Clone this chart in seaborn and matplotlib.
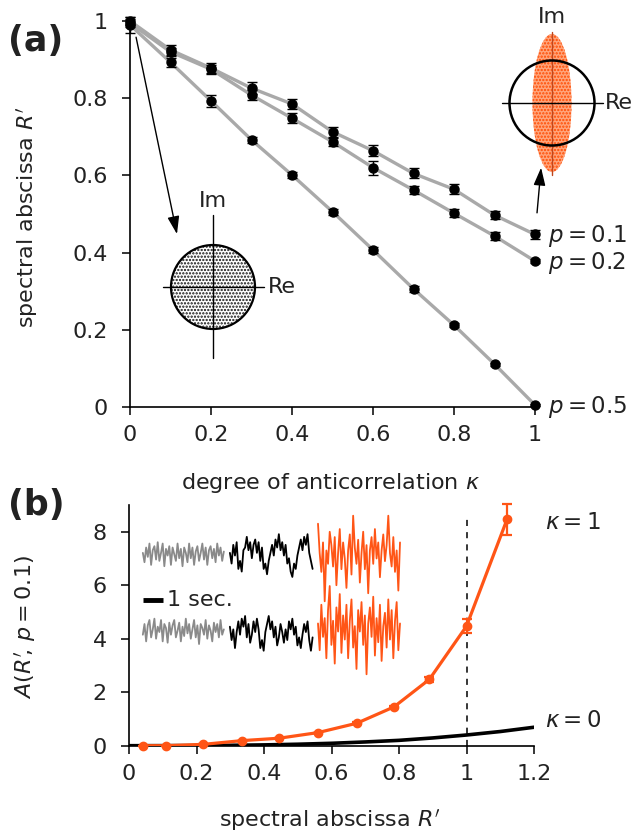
import numpy as np
import pandas as pd
import seaborn as sns
import matplotlib
matplotlib.use("Agg")
import matplotlib.pyplot as plt
from matplotlib.patches import Circle, Ellipse

# ---------------- data ----------------
kappa = [0.0, 0.1, 0.2, 0.3, 0.4, 0.5, 0.6, 0.7, 0.8, 0.9, 1.0]
r_p01 = [1.00, 0.925, 0.878, 0.826, 0.785, 0.713, 0.664, 0.605, 0.564, 0.497, 0.447]
e_p01 = [0.010, 0.014, 0.012, 0.016, 0.012, 0.013, 0.014, 0.013, 0.013, 0.010, 0.012]
r_p02 = [0.995, 0.920, 0.875, 0.808, 0.748, 0.687, 0.620, 0.562, 0.502, 0.443, 0.378]
e_p02 = [0.010, 0.010, 0.012, 0.012, 0.013, 0.010, 0.018, 0.010, 0.010, 0.010, 0.006]
r_p05 = [0.990, 0.893, 0.793, 0.692, 0.601, 0.506, 0.407, 0.306, 0.212, 0.111, 0.005]
e_p05 = [0.020, 0.012, 0.015, 0.007, 0.008, 0.008, 0.008, 0.008, 0.006, 0.004, 0.003]
p_labels = [r"$p = 0.1$", r"$p = 0.2$", r"$p = 0.5$"]

r_k1 = [0.04, 0.11, 0.22, 0.335, 0.445, 0.56, 0.675, 0.785, 0.89, 1.0, 1.12]
a_k1 = [0.0, 0.0, 0.05, 0.19, 0.28, 0.49, 0.84, 1.45, 2.48, 4.47, 8.46]
e_k1 = [0.0, 0.0, 0.0, 0.0, 0.0, 0.0, 0.03, 0.05, 0.08, 0.25, 0.58]
r_k0 = [0.0, 0.1, 0.2, 0.3, 0.4, 0.5, 0.6, 0.7, 0.8, 0.9, 1.0, 1.1, 1.2]
a_k0 = [0.0, 0.002, 0.006, 0.015, 0.03, 0.055, 0.09, 0.14, 0.2, 0.29, 0.4, 0.53, 0.69]

x_ticks_a = [0, 0.2, 0.4, 0.6, 0.8, 1.0]
x_ticklabels_a = ["0", "0.2", "0.4", "0.6", "0.8", "1"]
y_ticks_a = [0, 0.2, 0.4, 0.6, 0.8, 1.0]
y_ticklabels_a = ["0", "0.2", "0.4", "0.6", "0.8", "1"]
x_ticks_b = [0, 0.2, 0.4, 0.6, 0.8, 1.0, 1.2]
x_ticklabels_b = ["0", "0.2", "0.4", "0.6", "0.8", "1", "1.2"]
y_ticks_b = [0, 2, 4, 6, 8]
y_ticklabels_b = ["0", "2", "4", "6", "8"]

# example activity traces (illustrative), top row kappa=1 / bottom row kappa=0
trace_gray_top = [0.05,-0.3,0.25,-0.1,0.4,-0.4,0.15,0.3,-0.2,0.45,-0.25,0.05,0.4,-0.45,0.2,-0.05,0.3,-0.4,0.25,0.0,
                  -0.25,0.4,-0.15,0.2,-0.45,0.25,0.05,-0.3,0.4,-0.15,0.25,-0.4,0.1,0.3,-0.25,0.05,0.4,-0.2,0.25,-0.4,
                  0.15,0.3,-0.15,0.2,-0.3,0.4,-0.05,0.25,-0.25,0.1]
trace_black_top = [0.1,-0.3,0.4,0.0,0.5,-0.5,-0.2,-0.6,0.2,0.3,0.7,0.2,0.5,-0.1,0.4,0.6,0.1,0.5,-0.2,0.3,
                   -0.5,-0.3,-0.7,-0.2,0.1,0.4,0.0,0.6,0.3,0.8,0.2,0.5,0.0,0.4,-0.3,-0.1,-0.6,-0.8,-0.3,-0.5,
                   0.0,0.3,0.6,0.2,0.7,0.4,0.8,0.1,-0.2,-0.5]
trace_orange_top = [1.3,0.2,-0.5,0.6,-1.6,0.3,-0.2,1.0,0.5,-0.3,0.8,-1.0,0.2,1.1,-0.4,0.6,0.0,-1.1,0.3,0.9,
                    -0.6,1.6,0.4,-0.2,0.7,-0.9,0.2,1.0,-0.4,0.5,-1.3,0.3,0.8,-0.2,1.1,0.0,0.6,-0.7,0.3,0.9,
                    -0.1,0.5,1.6,0.2,-0.3,0.8,-0.5,0.3,-1.2,0.6]
trace_gray_bot = [-0.15,0.25,-0.4,0.2,0.4,-0.25,0.05,0.45,-0.3,0.15,-0.05,0.4,-0.4,0.25,0.1,-0.45,0.3,-0.15,0.2,0.4,
                  -0.25,0.0,0.3,-0.4,0.15,-0.2,0.45,-0.1,0.25,-0.3,0.05,0.4,-0.25,0.2,-0.5,0.25,0.1,-0.15,0.4,-0.3,
                  0.2,0.0,-0.4,0.3,-0.05,0.25,-0.25,0.4,-0.15,0.05]
trace_black_bot = [0.2,-0.3,0.1,-0.6,0.0,0.4,-0.1,0.5,0.2,0.6,-0.2,0.3,-0.4,-0.1,0.4,0.0,0.5,0.1,-0.6,-0.3,
                   -0.7,0.0,0.3,0.6,0.1,0.4,-0.2,0.2,-0.5,-0.2,0.3,0.0,-0.4,0.1,-0.3,0.4,0.1,0.5,-0.1,0.2,
                   -0.5,-0.2,-0.6,-0.1,0.3,0.0,0.4,-0.3,-0.7,-0.2]
trace_orange_bot = [0.3,-0.7,1.0,-0.2,0.5,-1.0,0.8,1.7,-0.5,0.4,-1.2,0.9,0.0,1.4,-0.8,0.6,-0.3,1.0,-1.0,0.4,
                    1.2,-0.6,0.2,-1.4,0.8,0.0,1.1,-0.5,0.6,-1.6,0.3,0.9,-0.2,1.3,-0.9,0.5,-0.4,1.0,-1.1,0.2,
                    0.7,-0.6,1.2,-0.3,0.8,-1.0,0.4,1.1,-0.7,0.3]

# ---------------- style ----------------
sns.set_theme(style="ticks")
plt.rcParams["font.family"] = ["DejaVu Sans"]
plt.rcParams["mathtext.fontset"] = "dejavusans"
plt.rcParams["hatch.linewidth"] = 1.1

ORANGE = "#ff5516"
GRAY_LINE = "#a9a9a9"
TXT = "#222222"
FS = 16

W, H = 635, 835
fig = plt.figure(figsize=(W / 100, H / 100), dpi=100)

def style_axes(ax):
    sns.despine(ax=ax)
    for s in ("left", "bottom"):
        ax.spines[s].set_linewidth(1.2)
        ax.spines[s].set_color("black")
    ax.tick_params(direction="out", length=6, width=1.1, color="black",
                   labelsize=FS, labelcolor=TXT)
    ax.tick_params(axis="y", pad=10)
    ax.tick_params(axis="x", pad=7)
    ax.set_facecolor("none")

# ---------------- panel (a) ----------------
ax_a = fig.add_axes([130 / W, 428 / H, 405 / W, 386 / H])
for vals in [r_p01, r_p02, r_p05]:
    sns.lineplot(x=kappa, y=vals, ax=ax_a, color=GRAY_LINE, lw=2.4, zorder=2)
for vals, errs in [(r_p01, e_p01), (r_p02, e_p02), (r_p05, e_p05)]:
    ax_a.errorbar(kappa, vals, yerr=errs, fmt="o", color="black", ms=6.5,
                  capsize=3.5, elinewidth=1.0, capthick=1.0, zorder=4, clip_on=False)
ax_a.set_xlim(0, 1)
ax_a.set_ylim(0, 1)
ax_a.set_xticks(x_ticks_a, x_ticklabels_a)
ax_a.set_yticks(y_ticks_a, y_ticklabels_a)
style_axes(ax_a)
ax_a.set_xlabel(r"degree of anticorrelation $\kappa$", fontsize=FS, color=TXT)
ax_a.set_ylabel(r"spectral abscissa $R'$", fontsize=FS, color=TXT)
ax_a.xaxis.label.set_va("center")
ax_a.yaxis.label.set_va("center")
ax_a.xaxis.set_label_coords(0.494, -0.197)
ax_a.yaxis.set_label_coords(-0.254, 0.492)

for lab, y in zip(p_labels, [r_p01[-1] - 0.004, r_p02[-1] - 0.004, 0.0]):
    ax_a.text(1.032, y, lab, fontsize=16.5, color=TXT, ha="left", va="center", clip_on=False)

ax_a.annotate("", xy=(0.116, 0.448), xytext=(0.015, 0.958),
              arrowprops=dict(arrowstyle="-|>,head_length=0.9,head_width=0.3",
                              color="black", lw=1.0, shrinkA=0, shrinkB=0),
              annotation_clip=False)
ax_a.annotate("", xy=(1.015, 0.62), xytext=(1.005, 0.503),
              arrowprops=dict(arrowstyle="-|>,head_length=0.9,head_width=0.3",
                              color="black", lw=1.0, shrinkA=0, shrinkB=0),
              annotation_clip=False)

# inset: circular eigenvalue cloud
R = 42.0
L = 2.3
ax_c1 = fig.add_axes([(213 - L * R) / W, (H - 287 - L * R) / H, 2 * L * R / W, 2 * L * R / H])
ax_c1.set_xlim(-L, L); ax_c1.set_ylim(-L, L); ax_c1.axis("off")
ax_c1.add_patch(Circle((0, 0), 1, facecolor="white", edgecolor="#101010", lw=0, hatch=".....", zorder=1))
ax_c1.add_patch(Circle((0, 0), 1, facecolor="none", edgecolor="black", lw=1.6, zorder=3))
ax_c1.plot([-1.19, 1.21], [0, 0], color="black", lw=1.0, zorder=2)
ax_c1.plot([0, 0], [-1.69, 1.71], color="black", lw=1.0, zorder=2)
ax_c1.text(0, 2.05, "Im", fontsize=16, color=TXT, ha="center", va="center")
ax_c1.text(1.3, 0.0, "Re", fontsize=16, color=TXT, ha="left", va="center")

# inset: elongated eigenvalue cloud
R2 = 42.5
ax_c2 = fig.add_axes([(552 - L * R2) / W, (H - 103 - L * R2) / H, 2 * L * R2 / W, 2 * L * R2 / H])
ax_c2.set_xlim(-L, L); ax_c2.set_ylim(-L, L); ax_c2.axis("off")
ax_c2.add_patch(Ellipse((0, 0), 0.92, 3.25, facecolor="#ffa57c", edgecolor="#ff4a00", lw=0,
                        hatch=".....", zorder=1))
ax_c2.plot([0, 0], [-1.69, 1.67], color="#c0461c", lw=1.0, zorder=2)
ax_c2.add_patch(Circle((0, 0), 1, facecolor="none", edgecolor="black", lw=1.8, zorder=3))
ax_c2.plot([-1.18, 1.2], [0, 0], color="black", lw=1.0, zorder=3)
ax_c2.text(0, 2.02, "Im", fontsize=16, color=TXT, ha="center", va="center")
ax_c2.text(1.25, 0.0, "Re", fontsize=16, color=TXT, ha="left", va="center")

# ---------------- panel (b) ----------------
ax_b = fig.add_axes([129 / W, 89.3 / H, 405 / W, 240.7 / H])
sns.lineplot(x=r_k0, y=a_k0, ax=ax_b, color="black", lw=2.6, zorder=3)
sns.lineplot(x=r_k1, y=a_k1, ax=ax_b, color=ORANGE, lw=2.3, zorder=4)
ax_b.errorbar(r_k1, a_k1, yerr=e_k1, fmt="o", color=ORANGE, ms=6, capsize=3.5,
              elinewidth=1.6, capthick=1.6, zorder=5, clip_on=False)
ax_b.axvline(1.0, ymin=0, ymax=8.55 / 9, color="black", lw=1.1, ls=(0, (4, 4)), zorder=2)
ax_b.set_xlim(0, 1.2)
ax_b.set_ylim(0, 9)
ax_b.set_xticks(x_ticks_b, x_ticklabels_b)
ax_b.set_yticks(y_ticks_b, y_ticklabels_b)
style_axes(ax_b)
ax_b.set_xlabel(r"spectral abscissa $R'$", fontsize=FS, color=TXT)
ax_b.set_ylabel(r"$A(R'\!,\, p = 0.1)$", fontsize=FS, color=TXT)
ax_b.xaxis.label.set_va("center")
ax_b.yaxis.label.set_va("center")
ax_b.xaxis.set_label_coords(0.496, -0.309)
ax_b.yaxis.set_label_coords(-0.257, 0.493)

ax_b.text(1.233, 8.33, r"$\kappa = 1$", fontsize=16.5, color=TXT, ha="left", va="center", clip_on=False)
ax_b.text(1.233, 0.96, r"$\kappa = 0$", fontsize=16.5, color=TXT, ha="left", va="center", clip_on=False)

# traces
def draw_trace(vals, x0, x1, base, color):
    xs = np.linspace(x0, x1, len(vals))
    ax_b.plot(xs, base + np.asarray(vals), color=color, lw=1.3, zorder=3)

draw_trace(trace_gray_top, 0.041, 0.281, 7.16, "#8a8a8a")
draw_trace(trace_black_top, 0.299, 0.544, 7.11, "black")
draw_trace(trace_orange_top, 0.560, 0.803, 7.00, ORANGE)
draw_trace(trace_gray_bot, 0.041, 0.281, 4.30, "#8a8a8a")
draw_trace(trace_black_bot, 0.299, 0.544, 4.25, "black")
draw_trace(trace_orange_bot, 0.560, 0.803, 4.27, ORANGE)

ax_b.plot([0.041, 0.100], [5.45, 5.45], color="black", lw=3.5, solid_capstyle="butt", zorder=3)
ax_b.text(0.112, 5.45, "1 sec.", fontsize=FS, color=TXT, ha="left", va="center")

# panel letters
fig.text(8 / W, 1 - 41 / H, "(a)", fontsize=25, fontweight="bold", color=TXT, ha="left", va="center")
fig.text(8 / W, 1 - 505 / H, "(b)", fontsize=25, fontweight="bold", color=TXT, ha="left", va="center")

fig.savefig("out.png", dpi=100, facecolor="white")
